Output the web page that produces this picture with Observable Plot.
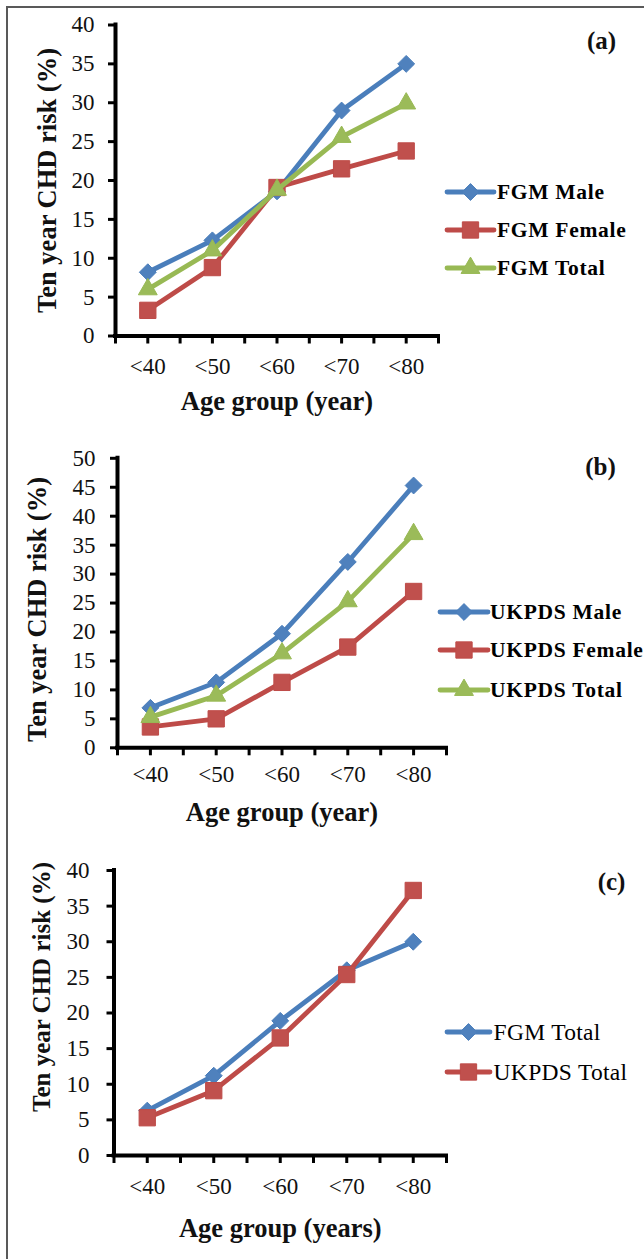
<!DOCTYPE html>
<html>
<head>
<meta charset="utf-8">
<script src="https://cdn.jsdelivr.net/npm/d3@7"></script>
<script src="https://cdn.jsdelivr.net/npm/@observablehq/plot@0.6"></script>
<style>
html, body { margin: 0; padding: 0; background: #fff; }
#root { position: relative; width: 644px; height: 1259px; overflow: hidden; background: #fff;
  font-family: "Liberation Serif", "Times New Roman", serif; }
.frame { position: absolute; left: 6px; top: 6px; width: 660px; height: 1280px;
  border-left: 2px solid #595959; border-top: 2px solid #595959; box-sizing: border-box; }
.panel { position: absolute; left: 0; width: 644px; }
.panel svg { position: absolute; left: 0; top: 0; overflow: visible; }
.item { position: absolute; display: flex; align-items: center; white-space: nowrap; height: 24px; color: #000; }
.item svg { position: static; flex: none; }
.item span { line-height: 24px; }
</style>
</head>
<body>
<div id="root"><div class="frame"></div></div>
<script>
// ---- data ----
const ages = ["<40", "<50", "<60", "<70", "<80"];

const fgmMale   = [8.2, 12.3, 18.6, 29.0, 35.0];
const fgmFemale = [3.3, 8.8, 19.1, 21.5, 23.8];
const fgmTotal  = [6.0, 11.0, 18.8, 25.6, 29.9];

const ukpdsMale   = [6.9, 11.3, 19.7, 32.1, 45.3];
const ukpdsFemale = [3.6, 5.0, 11.3, 17.4, 27.0];
const ukpdsTotal  = [5.3, 9.0, 16.3, 25.3, 36.9];

const cmpFgmTotal   = [6.3, 11.2, 18.9, 26.0, 30.0];
const cmpUkpdsTotal = [5.3, 9.1, 16.5, 25.4, 37.2];

const yTicksA = [0, 5, 10, 15, 20, 25, 30, 35, 40];
const yTicksB = [0, 5, 10, 15, 20, 25, 30, 35, 40, 45, 50];
const yTicksC = [0, 5, 10, 15, 20, 25, 30, 35, 40];

const yTitle = "Ten year CHD risk (%)";

// ---- styles ----
const BLUE = {line: "#4A7EBB", fill: "#4F81BD", symbol: "diamond2", r: 7.6};
const RED = {line: "#BE4B48", fill: "#C0504D", symbol: "square", r: 9.2};
const GREEN = {line: "#98B954", fill: "#9BBB59", symbol: "triangle", r: 7};
const FONT = "'Liberation Serif', 'Times New Roman', serif";

const root = document.getElementById("root");

function rows(values) {
  return ages.map((age, i) => ({age, value: values[i]}));
}
const xPos = d => ages.indexOf(d.age) + 0.5;

function buildPanel(cfg) {
  const div = document.createElement("div");
  div.className = "panel";
  div.style.top = cfg.top + "px";
  div.style.height = cfg.height + "px";
  root.appendChild(div);

  const seriesMarks = [];
  for (const s of cfg.series) {
    const data = rows(s.values);
    seriesMarks.push(Plot.line(data, {x: xPos, y: "value", stroke: s.style.line, strokeWidth: 4.8,
      strokeLinejoin: "round", strokeLinecap: "round"}));
    seriesMarks.push(Plot.dot(data, {x: xPos, y: "value", symbol: s.style.symbol, r: s.style.r,
      fill: s.style.fill, stroke: s.style.line, strokeWidth: 1}));
  }

  const chart = Plot.plot({
    width: 644,
    height: cfg.height,
    marginTop: cfg.mt, marginBottom: cfg.mb, marginLeft: cfg.ml, marginRight: cfg.mr,
    style: {fontFamily: FONT, background: "transparent", color: "#000", overflow: "visible"},
    x: {type: "linear", domain: [0, 5]},
    y: {domain: [0, cfg.yTicks[cfg.yTicks.length - 1]]},
    marks: [
      Plot.axisY({ticks: cfg.yTicks, tickSize: 7, tickPadding: cfg.yPad, fontSize: 23, strokeWidth: 3,
        label: null, tickFormat: d => String(d), fill: "#111"}),
      Plot.axisX({ticks: d3.range(0, 5.25, 0.5), tickSize: 8, tickPadding: cfg.xPad, fontSize: 23, strokeWidth: 3,
        label: null, tickFormat: t => (t % 1 ? ages[Math.floor(t)] : ""), fill: "#111"}),
      Plot.ruleX([0], {strokeWidth: 4, strokeLinecap: "square", stroke: "#000"}),
      Plot.ruleY([0], {strokeWidth: 4, strokeLinecap: "square", stroke: "#000"}),
      ...seriesMarks,
      Plot.text([cfg.xTitle], {text: d => d, frameAnchor: "bottom", dy: cfg.xTitleDy, fontWeight: "bold",
        fontSize: 26.5, textAnchor: "middle", lineAnchor: "middle", fill: "#111"}),
      Plot.text([yTitle], {text: d => d, frameAnchor: "left", rotate: -90, dx: cfg.yTitleDx, dy: cfg.yTitleDy,
        fontWeight: "bold", fontSize: cfg.yTitleSize, textAnchor: "middle", lineAnchor: "middle", fill: "#111"}),
      Plot.text([cfg.tag], {text: d => d, frameAnchor: "top-right", dx: cfg.tagDx, dy: cfg.tagDy,
        fontWeight: "bold", fontSize: 25, textAnchor: "middle", lineAnchor: "middle", fill: "#111"})
    ]
  });
  div.appendChild(chart);

  // legend
  cfg.series.forEach((s, i) => {
    const item = document.createElement("div");
    item.className = "item";
    item.style.left = cfg.legend.left + "px";
    item.style.top = (cfg.legend.rows[i] - 12) + "px";
    const w = cfg.legend.width;
    const svg = d3.create("svg").attr("width", w).attr("height", 24);
    svg.append("line").attr("x1", 1).attr("x2", w - 1).attr("y1", 12).attr("y2", 12)
      .attr("stroke", s.style.line).attr("stroke-width", 4.8).attr("stroke-linecap", "round");
    const symMap = {diamond2: d3.symbolDiamond2, square: d3.symbolSquare, triangle: d3.symbolTriangle};
    svg.append("path").attr("transform", `translate(${w / 2},12)`)
      .attr("d", d3.symbol(symMap[s.style.symbol], Math.PI * s.style.r * s.style.r)())
      .attr("fill", s.style.fill).attr("stroke", s.style.line).attr("stroke-width", 1);
    item.appendChild(svg.node());
    const span = document.createElement("span");
    span.textContent = s.name;
    span.style.marginLeft = cfg.legend.gap + "px";
    span.style.fontSize = cfg.legend.fontSize + "px";
    span.style.fontWeight = cfg.legend.weight;
    span.style.letterSpacing = cfg.legend.spacing + "px";
    span.style.fontFamily = FONT;
    item.appendChild(span);
    div.appendChild(item);
  });
}

buildPanel({
  top: 0, height: 420, mt: 24.5, mb: 84.5, ml: 115, mr: 206,
  yTicks: yTicksA, yPad: 14, xPad: 13.5,
  xTitle: "Age group (year)", xTitleDy: 66,
  yTitleDx: -67.5, yTitleDy: 0, yTitleSize: 26.5,
  tag: "(a)", tagDx: 163, tagDy: 15.5,
  series: [
    {name: "FGM Male", values: fgmMale, style: BLUE},
    {name: "FGM Female", values: fgmFemale, style: RED},
    {name: "FGM Total", values: fgmTotal, style: GREEN}
  ],
  legend: {left: 446, width: 49, gap: 2, rows: [192, 230, 268], fontSize: 21.5, weight: "bold", spacing: 0.7}
});

buildPanel({
  top: 420, height: 420, mt: 37.8, mb: 92.7, ml: 117, mr: 198,
  yTicks: yTicksB, yPad: 15, xPad: 10.3,
  xTitle: "Age group (year)", xTitleDy: 64.4,
  yTitleDx: -79.8, yTitleDy: 6.5, yTitleSize: 26.5,
  tag: "(b)", tagDx: 154, tagDy: 8.9,
  series: [
    {name: "UKPDS Male", values: ukpdsMale, style: BLUE},
    {name: "UKPDS Female", values: ukpdsFemale, style: RED},
    {name: "UKPDS Total", values: ukpdsTotal, style: GREEN}
  ],
  legend: {left: 438.6, width: 50, gap: 1.5, rows: [192, 230, 270], fontSize: 21.5, weight: "bold", spacing: 0.7}
});

buildPanel({
  top: 840, height: 419, mt: 30, mb: 104, ml: 113.5, mr: 198,
  yTicks: yTicksC, yPad: 17.5, xPad: 14.2,
  xTitle: "Age group (years)", xTitleDy: 73.5,
  yTitleDx: -72.5, yTitleDy: -26, yTitleSize: 25,
  tag: "(c)", tagDx: 165, tagDy: 11.7,
  series: [
    {name: "FGM Total", values: cmpFgmTotal, style: BLUE},
    {name: "UKPDS Total", values: cmpUkpdsTotal, style: RED}
  ],
  legend: {left: 445.6, width: 45, gap: 3, rows: [192, 232], fontSize: 23.5, weight: "normal", spacing: 0.3}
});
</script>
</body>
</html>
